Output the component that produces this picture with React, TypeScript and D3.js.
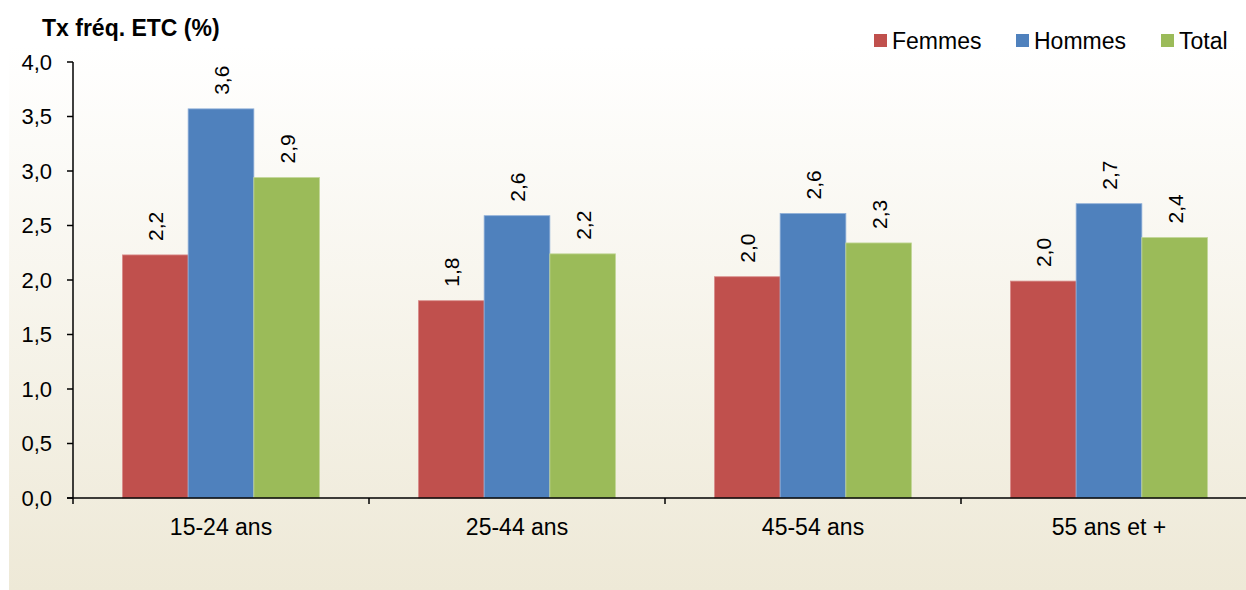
import React from "react";
import * as d3 from "d3";

const categories = ["15-24 ans", "25-44 ans", "45-54 ans", "55 ans et +"];
const seriesNames = ["Femmes", "Hommes", "Total"];
const femmes = [2.23, 1.81, 2.03, 1.99];
const hommes = [3.57, 2.59, 2.61, 2.7];
const total = [2.94, 2.24, 2.34, 2.39];
const yTicks = [0, 0.5, 1, 1.5, 2, 2.5, 3, 3.5, 4];
const colors = ["#C0504D", "#4F81BD", "#9BBB59"];
const strokes = ["#D98D8B", "#8FAFD8", "#C3D89A"];

const W = 1246;
const H = 590;
const left = 73;
const right = 1257;
const top = 62;
const bottom = 498;
const font = "Arial, 'Liberation Sans', sans-serif";

export default function App() {
  const values = [femmes, hommes, total];
  const x0 = d3.scaleBand().domain(categories).range([left, right]).paddingInner(0).paddingOuter(0);
  const groupW = x0.bandwidth() * 0.666;
  const x1 = d3.scaleBand().domain(seriesNames).range([0, groupW]).padding(0);
  const y = d3.scaleLinear().domain([0, 4]).range([bottom, top]);
  const fmt = (v: number) => d3.format(".1f")(v).replace(".", ",");

  return (
    <svg width={W} height={H} style={{ position: "absolute", left: 0, top: 0, display: "block" }}>
      <defs>
        <linearGradient id="bg" x1="0" y1="0" x2="0" y2="1">
          <stop offset="0%" stopColor="#FFFFFF" />
          <stop offset="100%" stopColor="#EEE9D7" />
        </linearGradient>
      </defs>
      <rect x={0} y={0} width={W} height={H} fill="#FFFFFF" />
      <rect x={9} y={45} width={W - 9} height={H - 45} fill="url(#bg)" />

      {/* bars */}
      {categories.map((c, i) => {
        const gx = (x0(c) as number) + (x0.bandwidth() - groupW) / 2;
        return (
          <g key={c}>
            {seriesNames.map((s, j) => {
              const v = values[j][i];
              const bx = gx + (x1(s) as number);
              const by = y(v);
              const bw = x1.bandwidth();
              return (
                <g key={s}>
                  <rect x={bx} y={by} width={bw} height={bottom - by} fill={colors[j]} stroke={strokes[j]} strokeWidth={0.8} />
                  <text
                    transform={`translate(${bx + bw / 2 + 8},${by - 14}) rotate(-90)`}
                    fontFamily={font}
                    fontSize={21}
                    fill="#000"
                    textAnchor="start"
                  >
                    {fmt(v)}
                  </text>
                </g>
              );
            })}
          </g>
        );
      })}

      {/* y axis */}
      <line x1={left} y1={top} x2={left} y2={bottom} stroke="#000" strokeWidth={1.5} />
      {yTicks.map((t) => (
        <g key={t}>
          <line x1={left - 6} x2={left} y1={y(t)} y2={y(t)} stroke="#000" strokeWidth={1.5} />
          <text x={52} y={y(t) + 7.5} textAnchor="end" fontFamily={font} fontSize={22} fill="#000">
            {fmt(t)}
          </text>
        </g>
      ))}

      {/* x axis */}
      <line x1={left - 6} x2={right} y1={bottom} y2={bottom} stroke="#000" strokeWidth={1.5} />
      {categories.map((c) => (
        <line key={"t" + c} x1={x0(c) as number} x2={x0(c) as number} y1={bottom} y2={bottom + 6} stroke="#000" strokeWidth={1.5} />
      ))}
      {categories.map((c) => (
        <text key={"l" + c} x={(x0(c) as number) + x0.bandwidth() / 2} y={535} textAnchor="middle" fontFamily={font} fontSize={23} fill="#000">
          {c}
        </text>
      ))}

      {/* title */}
      <text x={42} y={36} fontFamily={font} fontSize={23} fontWeight="bold" fill="#000">
        Tx fréq. ETC (%)
      </text>

      {/* legend */}
      {[
        { x: 874, tx: 892 },
        { x: 1016, tx: 1034 },
        { x: 1161, tx: 1179 },
      ].map((p, j) => (
        <g key={seriesNames[j]}>
          <rect x={p.x} y={34} width={13} height={13} fill={colors[j]} />
          <text x={p.tx} y={48.5} fontFamily={font} fontSize={23} fill="#000">
            {seriesNames[j]}
          </text>
        </g>
      ))}
    </svg>
  );
}
